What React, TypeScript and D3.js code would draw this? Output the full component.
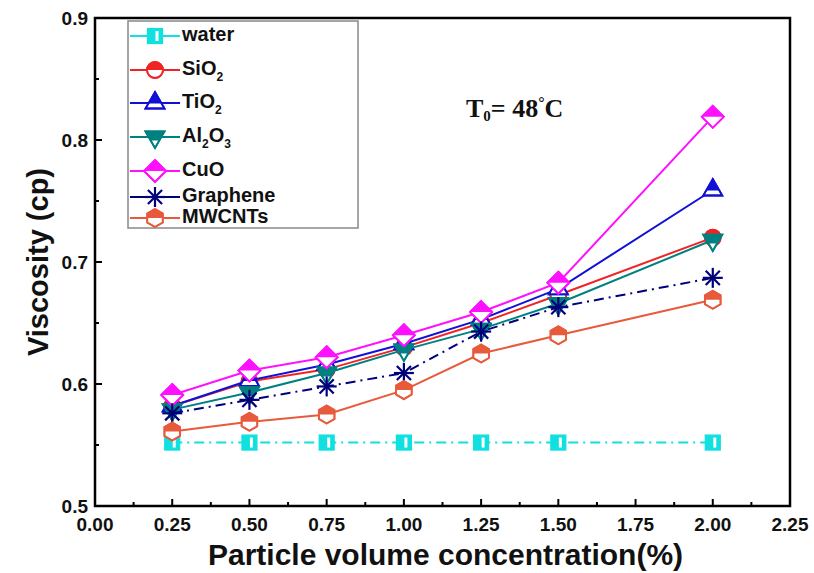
import React from "react";
import * as d3 from "d3";

// particle volume concentration (%)
const concentration = [0.25, 0.5, 0.75, 1.0, 1.25, 1.5, 2.0];
// viscosity (cp)
const water = [0.552, 0.552, 0.552, 0.552, 0.552, 0.552, 0.552];
const sio2 = [0.582, 0.602, 0.612, 0.63, 0.65, 0.673, 0.72];
const tio2 = [0.582, 0.603, 0.616, 0.633, 0.653, 0.678, 0.759];
const al2o3 = [0.579, 0.593, 0.609, 0.628, 0.645, 0.666, 0.718];
const cuo = [0.591, 0.611, 0.622, 0.64, 0.659, 0.683, 0.819];
const graphene = [0.576, 0.587, 0.598, 0.609, 0.643, 0.663, 0.687];
const mwcnts = [0.561, 0.569, 0.575, 0.595, 0.625, 0.64, 0.669];

const xTicks = [0, 0.25, 0.5, 0.75, 1.0, 1.25, 1.5, 1.75, 2.0, 2.25];
const yTicks = [0.5, 0.6, 0.7, 0.8, 0.9];

const series = [
  { name: "water", sub: [], values: water, color: "#10e0e0", dash: "10,5,2,5", marker: "square" },
  { name: "SiO", sub: ["2"], values: sio2, color: "#f02424", dash: null, marker: "circle" },
  { name: "TiO", sub: ["2"], values: tio2, color: "#1010d8", dash: null, marker: "triangle" },
  { name: "Al", sub: ["2", "O", "3"], values: al2o3, color: "#008080", dash: null, marker: "triangleDown" },
  { name: "CuO", sub: [], values: cuo, color: "#ff10ff", dash: null, marker: "diamond" },
  { name: "Graphene", sub: [], values: graphene, color: "#00007a", dash: "10,5,2,5", marker: "star" },
  { name: "MWCNTs", sub: [], values: mwcnts, color: "#e85a3c", dash: null, marker: "hexagon" },
];

const W = 814, H = 573;
const left = 95, right = 790, top = 18, bottom = 506;

const x = d3.scaleLinear().domain([0, 2.25]).range([left, right]);
const y = d3.scaleLinear().domain([0.5, 0.9]).range([bottom, top]);

const poly = (n: number, r: number, rot: number) => {
  const pts: [number, number][] = d3.range(n).map((i) => {
    const a = rot + (i * 2 * Math.PI) / n;
    return [r * Math.sin(a), -r * Math.cos(a)];
  });
  return d3.line()(pts) + "Z";
};

function Marker({ type, color, cx, cy }: { type: string; color: string; cx: number; cy: number }) {
  if (type === "square") {
    return (
      <g transform={`translate(${cx},${cy})`}>
        <rect x={-7.5} y={-7.5} width={15} height={15} fill={color} stroke={color} strokeWidth={1.2} />
        <rect x={0.5} y={-5} width={3} height={10} fill="#fff" />
      </g>
    );
  }
  if (type === "star") {
    const r = 10;
    return (
      <g transform={`translate(${cx},${cy})`} stroke={color} strokeWidth={2.2}>
        {d3.range(4).map((i) => {
          const a = (i * Math.PI) / 4;
          return <line key={i} x1={-r * Math.sin(a)} y1={-r * Math.cos(a)} x2={r * Math.sin(a)} y2={r * Math.cos(a)} />;
        })}
      </g>
    );
  }
  let d = "";
  let frac = 0.5;
  if (type === "circle") d = d3.symbol(d3.symbolCircle, 200)()!;
  if (type === "triangle") { d = poly(3, 11, 0); frac = 0.7; }
  if (type === "triangleDown") { d = poly(3, 11, Math.PI); frac = 0.55; }
  if (type === "diamond") d = poly(4, 11, 0);
  if (type === "hexagon") d = poly(6, 9, 0);
  return (
    <g transform={`translate(${cx},${cy})`}>
      <path d={d} fill="#fff" stroke={color} strokeWidth={1.8} />
      <path d={d} fill={color} clipPath={`url(#half${Math.round(frac * 100)})`} />
      <path d={d} fill="none" stroke={color} strokeWidth={1.8} />
    </g>
  );
}

function Label({ s, x0, y0 }: { s: (typeof series)[number]; x0: number; y0: number }) {
  const big = 20, small = 12;
  return (
    <text x={x0} y={y0} fontSize={big} fontWeight="bold" fontFamily="Arial, 'Liberation Sans', sans-serif" dominantBaseline="middle" fill="#111">
      {s.name}
      {s.sub.map((t, i) =>
        /\d/.test(t) ? (
          <tspan key={i} fontSize={small} dy={8}>{t}</tspan>
        ) : (
          <tspan key={i} dy={-8}>{t}</tspan>
        )
      )}
    </text>
  );
}

export default function App() {
  const line = d3
    .line<number>()
    .x((_, i) => x(concentration[i]))
    .y((v) => y(v));

  const xMinor = d3.range(0.125, 2.25, 0.25);
  const yMinor = d3.range(0.55, 0.9, 0.1);
  const legendY = [36, 70, 103, 137, 171, 197, 218];

  return (
    <svg width={W} height={H} style={{ display: "block", position: "absolute", left: 0, top: 0 }}>
      <defs>
        {[50, 55, 70].map((p) => (
          <clipPath key={p} id={`half${p}`} clipPathUnits="objectBoundingBox">
            <rect x={-0.1} y={-0.1} width={1.2} height={p / 100 + 0.1} />
          </clipPath>
        ))}
      </defs>
      <rect width={W} height={H} fill="#fff" />

      {/* ticks */}
      <g stroke="#000" strokeWidth={2}>
        {xTicks.map((t) => (
          <line key={"xt" + t} x1={x(t)} x2={x(t)} y1={bottom} y2={bottom - 7} />
        ))}
        {xMinor.map((t) => (
          <line key={"xm" + t} x1={x(t)} x2={x(t)} y1={bottom} y2={bottom - 4} />
        ))}
        {yTicks.map((t) => (
          <line key={"yt" + t} x1={left} x2={left + 7} y1={y(t)} y2={y(t)} />
        ))}
        {yMinor.map((t) => (
          <line key={"ym" + t} x1={left} x2={left + 4} y1={y(t)} y2={y(t)} />
        ))}
      </g>

      <g fontFamily="Arial, 'Liberation Sans', sans-serif" fontWeight="bold" fontSize={19} fill="#111">
        {xTicks.map((t) => (
          <text key={"xl" + t} x={x(t)} y={bottom + 25} textAnchor="middle">
            {d3.format(".2f")(t)}
          </text>
        ))}
        {yTicks.map((t) => (
          <text key={"yl" + t} x={left - 7} y={y(t) + 7} textAnchor="end">
            {d3.format(".1f")(t)}
          </text>
        ))}
      </g>

      <text x={(left + right) / 2 + 3} y={565} textAnchor="middle" fontFamily="Arial, 'Liberation Sans', sans-serif" fontWeight="bold" fontSize={30} fill="#111">
        Particle volume concentration(%)
      </text>
      <text transform={`translate(48,${(top + bottom) / 2}) rotate(-90)`} textAnchor="middle" fontFamily="Arial, 'Liberation Sans', sans-serif" fontWeight="bold" fontSize={29} fill="#111">
        Viscosity (cp)
      </text>

      {/* series */}
      {series.map((s) => (
        <g key={s.name + s.sub.join("")}>
          <path d={line(s.values)!} fill="none" stroke={s.color} strokeWidth={2} strokeDasharray={s.dash ?? undefined} />
          {s.values.map((v, i) => (
            <Marker key={i} type={s.marker} color={s.color} cx={x(concentration[i])} cy={y(v)} />
          ))}
        </g>
      ))}

      {/* legend */}
      <rect x={128} y={21} width={230} height={207} fill="#fff" stroke="#888" strokeWidth={1.5} />
      {series.map((s, i) => (
        <g key={"lg" + i}>
          <line x1={130} x2={180} y1={legendY[i]} y2={legendY[i]} stroke={s.color} strokeWidth={2} />
          <Marker type={s.marker} color={s.color} cx={155} cy={legendY[i]} />
          <Label s={s} x0={182} y0={legendY[i]} />
        </g>
      ))}

      <text x={466} y={117} fontFamily="'Liberation Serif', 'Times New Roman', serif" fontWeight="bold" fontSize={26} fill="#111">
        T<tspan fontSize={15} dy={4}>0</tspan>
        <tspan dy={-4}>= 48</tspan>
        <tspan fontSize={16} dy={-9}>°</tspan>
        <tspan dy={9}>C</tspan>
      </text>

      <rect x={left} y={top} width={right - left} height={bottom - top} fill="none" stroke="#000" strokeWidth={2.5} />
    </svg>
  );
}
